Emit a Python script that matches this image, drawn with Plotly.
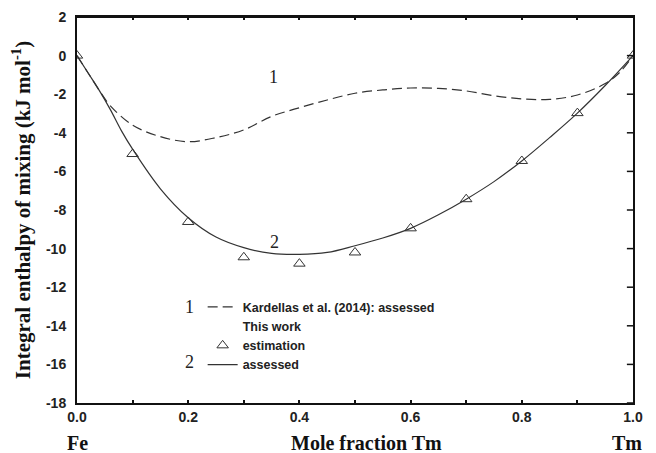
import plotly.graph_objects as go

# ---- data ----
est_x = [0.0, 0.1, 0.2, 0.3, 0.4, 0.5, 0.6, 0.7, 0.8, 0.9, 1.0]
est_y = [0.0, -5.1, -8.62, -10.45, -10.78, -10.2, -8.95, -7.44, -5.46, -2.98, 0.0]

kard_x = [0, 0.02, 0.04, 0.06, 0.1, 0.15, 0.2, 0.25, 0.3, 0.35, 0.4, 0.45, 0.5,
          0.55, 0.6, 0.65, 0.7, 0.75, 0.8, 0.85, 0.9, 0.95, 0.975, 1.0]
kard_y = [0, -0.9, -1.8, -2.6, -3.6, -4.2, -4.46, -4.25, -3.85, -3.15, -2.7, -2.3,
          -1.95, -1.78, -1.68, -1.7, -1.83, -2.08, -2.24, -2.27, -2.04, -1.45, -0.9, 0]

ass_x = [0, 0.02, 0.04, 0.06, 0.08, 0.1, 0.15, 0.2, 0.25, 0.3, 0.35, 0.4, 0.45,
         0.5, 0.55, 0.6, 0.65, 0.7, 0.75, 0.8, 0.85, 0.9, 0.95, 1.0]
ass_y = [0, -0.9, -1.8, -2.8, -3.9, -4.85, -6.9, -8.4, -9.4, -9.95, -10.25, -10.3,
         -10.2, -9.85, -9.45, -8.95, -8.25, -7.44, -6.53, -5.46, -4.25, -2.98, -1.55, 0]

x_tickvals = [0.0, 0.1, 0.2, 0.3, 0.4, 0.5, 0.6, 0.7, 0.8, 0.9, 1.0]
x_ticktext = ["0.0", "", "0.2", "", "0.4", "", "0.6", "", "0.8", "", "1.0"]
y_ticks = [2, 0, -2, -4, -6, -8, -10, -12, -14, -16, -18]

LINE = "#333333"
AX = "#111111"
SANS = "Liberation Sans, Arial, sans-serif"
SERIF = "Liberation Serif, Times New Roman, serif"

fig = go.Figure()
fig.add_trace(go.Scatter(x=kard_x, y=kard_y, mode="lines",
                         line=dict(color=LINE, width=1.2, dash="10px,5px", shape="spline", smoothing=1.0),
                         name="Kardellas et al. (2014): assessed"))
fig.add_trace(go.Scatter(x=[None], y=[None], mode="markers",
                         marker=dict(color="rgba(0,0,0,0)", line=dict(width=0)),
                         name="This work"))
fig.add_trace(go.Scatter(x=est_x, y=est_y, mode="markers",
                         marker=dict(symbol="triangle-up-open", size=10, color=LINE, line=dict(width=1)),
                         name="estimation"))
fig.add_trace(go.Scatter(x=ass_x, y=ass_y, mode="lines",
                         line=dict(color=LINE, width=1.2, shape="spline", smoothing=1.0),
                         name="assessed"))

annos = [
    dict(x=0.353, y=-1.1, xref="x", yref="y", text="1", showarrow=False,
         font=dict(family=SERIF, size=18, color="#222")),
    dict(x=0.356, y=-9.65, xref="x", yref="y", text="2", showarrow=False,
         font=dict(family=SERIF, size=18, color="#222")),
    dict(x=0.203, y=-13.0, xref="x", yref="y", text="1", showarrow=False,
         font=dict(family=SERIF, size=18, color="#222")),
    dict(x=0.203, y=-15.9, xref="x", yref="y", text="2", showarrow=False,
         font=dict(family=SERIF, size=18, color="#222")),
    dict(x=0.0, y=-0.103, xref="paper", yref="paper", text="Fe", showarrow=False,
         xanchor="center", yanchor="middle",
         font=dict(family=SERIF, size=20, color=AX, weight="bold")),
    dict(x=0.52, y=-0.103, xref="paper", yref="paper", text="Mole fraction Tm", showarrow=False,
         xanchor="center", yanchor="middle",
         font=dict(family=SERIF, size=20, color=AX, weight="bold")),
    dict(x=0.99, y=-0.103, xref="paper", yref="paper", text="Tm", showarrow=False,
         xanchor="center", yanchor="middle",
         font=dict(family=SERIF, size=20, color=AX, weight="bold")),
]

# frame and right-side inward tick marks at the y tick values
shapes = [dict(type="line", xref="paper", yref="paper", x0=0, x1=1, y0=1, y1=1,
               line=dict(color=AX, width=2), layer="above")]
shapes += [dict(type="line", xref="paper", yref="y", x0=1, x1=0.989, y0=v, y1=v,
                line=dict(color=AX, width=1.5)) for v in y_ticks]

fig.update_layout(
    template="none",
    width=656, height=453,
    margin=dict(l=77, r=23, t=17, b=50, autoexpand=False),
    paper_bgcolor="white", plot_bgcolor="white",
    showlegend=True,
    legend=dict(x=0.226, y=0.287, xanchor="left", yanchor="top",
                bgcolor="rgba(0,0,0,0)", borderwidth=0, tracegroupgap=0,
                itemwidth=30,
                font=dict(family=SANS, size=12.5, color="#222", weight="bold")),
    annotations=annos,
    shapes=shapes,
    xaxis=dict(range=[0, 1], tickvals=x_tickvals, ticktext=x_ticktext,
               showgrid=False, zeroline=False, showline=True, linecolor=AX, linewidth=2,
               mirror="ticks", ticks="inside", ticklen=3, tickwidth=1.5, tickcolor=AX,
               automargin=False,
               tickfont=dict(family=SANS, size=14, color="#222", weight="bold")),
    yaxis=dict(range=[-18, 2], tickvals=y_ticks, ticktext=[str(v) for v in y_ticks],
               showgrid=False, zeroline=False, showline=True, linecolor=AX, linewidth=2,
               mirror=True, ticks="outside", ticklen=6, tickcolor="rgba(0,0,0,0)",
               automargin=False,
               title=dict(text="Integral enthalpy of mixing (kJ mol<sup>-1</sup>)", standoff=10,
                          font=dict(family=SERIF, size=21, color=AX, weight="bold")),
               tickfont=dict(family=SANS, size=14, color="#222", weight="bold")),
)

fig.write_html("out.html")
